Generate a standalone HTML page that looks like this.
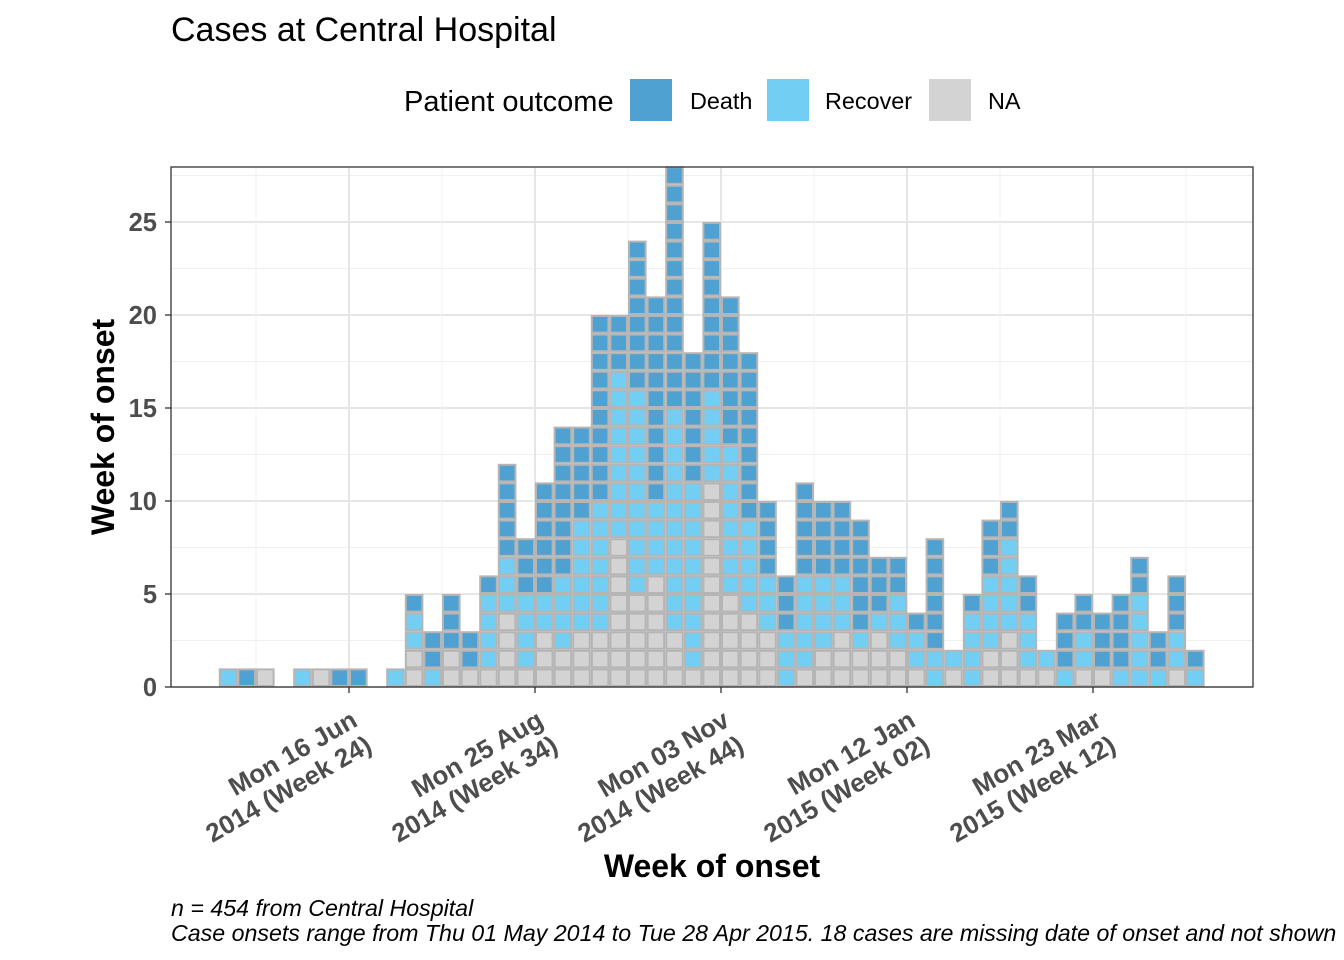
<!DOCTYPE html>
<html><head><meta charset="utf-8"><style>
html,body{margin:0;padding:0;background:#fff;}
svg{display:block;font-family:"Liberation Sans",Arial,sans-serif;}
</style></head><body>
<svg id="chart" width="1344" height="960" viewBox="0 0 1344 960">
<text x="171" y="41" font-size="34" fill="#000">Cases at Central Hospital</text>
<g>
<text x="404" y="111" font-size="29" fill="#000">Patient outcome</text>
<rect x="630" y="79" width="42" height="42" fill="#4fa1d1"/>
<text x="690" y="109" font-size="23.4">Death</text>
<rect x="767" y="79" width="42" height="42" fill="#72cff3"/>
<text x="825" y="109" font-size="23.4">Recover</text>
<rect x="929" y="79" width="42" height="42" fill="#d3d3d3"/>
<text x="988" y="109" font-size="23.4">NA</text>
</g>
<g id="grid"></g>
<g id="bars"></g>
<rect x="171" y="167" width="1082" height="520" fill="none" stroke="#333" stroke-width="1.3"/>
<g id="axes"></g>
<text transform="translate(114,427) rotate(-90)" text-anchor="middle" font-size="32" font-weight="bold">Week of onset</text>
<text x="712" y="877" text-anchor="middle" font-size="32" font-weight="bold">Week of onset</text>
<text x="171" y="916" font-size="23.2" font-style="italic">n = 454 from Central Hospital</text>
<text x="171" y="941" font-size="23.2" font-style="italic">Case onsets range from Thu 01 May 2014 to Tue 28 Apr 2015. 18 cases are missing date of onset and not shown</text>
</svg>
<script>
// weeks offset from Mon 16 Jun 2014 (week index 0 = Mon 28 Apr 2014)
const weekOffsets = [-7,-6,-5,-4,-3,-2,-1,0,1,2,3,4,5,6,7,8,9,10,11,12,13,14,15,16,17,18,19,20,21,22,23,24,25,26,27,28,29,30,31,32,33,34,35,36,37,38,39,40,41,42,43,44,45];
const naCounts =      [0,0,1,0,0,1,0,0,0,0,2,0,2,1,1,4,1,3,2,3,3,8,5,6,3,1,11,5,4,3,0,1,2,3,2,3,2,1,0,1,0,2,3,1,1,0,1,1,0,0,0,1,0];
const recoverCounts = [1,0,0,0,1,0,0,0,0,1,2,1,0,0,4,3,4,2,4,6,7,9,11,4,12,10,5,8,5,3,3,5,4,3,1,1,3,2,2,1,4,4,5,3,1,1,2,0,1,5,1,2,1];
const deathCounts =   [0,1,0,0,0,0,1,1,0,0,1,2,3,2,1,5,3,6,8,5,10,3,8,11,13,7,9,8,9,4,3,5,4,4,6,3,2,1,6,0,1,3,2,2,0,3,2,3,4,2,2,3,1];
const yTicks = [0,5,10,15,20,25];
const xTickWeeks = [0,10,20,30,40];
const xTickLine1 = ["Mon 16 Jun","Mon 25 Aug","Mon 03 Nov","Mon 12 Jan","Mon 23 Mar"];
const xTickLine2 = ["2014 (Week 24)","2014 (Week 34)","2014 (Week 44)","2015 (Week 02)","2015 (Week 12)"];

const NS = "http://www.w3.org/2000/svg";
const X0 = 171, X1 = 1253, Y0 = 687, Y1 = 167;
const x = w => 349 + 18.6 * w;
const y = v => 687 - 18.6 * v;
function mk(tag, attrs, parent){const e=document.createElementNS(NS,tag);for(const k in attrs)e.setAttribute(k,attrs[k]);parent.appendChild(e);return e;}
const grid = document.getElementById('grid');
const bars = document.getElementById('bars');
const axes = document.getElementById('axes');
for (let v = 2.5; y(v) > Y1; v += 5) {
  const l = mk('line',{x1:X0,x2:X1,y1:y(v),y2:y(v),stroke:'#f0f0f0','stroke-width':1},grid);
  
  
}
yTicks.forEach(v=>{
  const l = mk('line',{x1:X0,x2:X1,y1:y(v),y2:y(v),stroke:'#e6e6e6','stroke-width':2},grid);
  
  
  const t = mk('line',{x1:X0-6,x2:X0,y1:y(v),y2:y(v),stroke:'#333','stroke-width':1.3},axes);
  
  
  const lab = mk('text',{x:157,y:y(v)+9,'text-anchor':'end','font-size':25.5,'font-weight':'bold',fill:'#4d4d4d'},axes);
  lab.textContent = v;
  
  
});
for (let w = -5; x(w) < X1; w += 10) {
  if (x(w) <= X0) continue;
  const l = mk('line',{x1:x(w),x2:x(w),y1:Y1,y2:Y0,stroke:'#f0f0f0','stroke-width':1},grid);
  
  
}
xTickWeeks.forEach((w,i)=>{
  const l = mk('line',{x1:x(w),x2:x(w),y1:Y1,y2:Y0,stroke:'#e6e6e6','stroke-width':2},grid);
  
  
  const t = mk('line',{x1:x(w),x2:x(w),y1:Y0,y2:Y0+6,stroke:'#333','stroke-width':1.3},axes);
  
  
  const g = mk('g',{transform:`translate(${x(w)+10},725) rotate(-30)`},axes);
  
  
  const a = mk('text',{x:0,y:0,'text-anchor':'end','font-size':26,'font-weight':'bold',fill:'#4d4d4d'},g);
  a.textContent = xTickLine1[i];
  const b = mk('text',{x:0,y:29,'text-anchor':'end','font-size':26,'font-weight':'bold',fill:'#4d4d4d'},g);
  b.textContent = xTickLine2[i];
});
const cats = [['na',naCounts,'#d3d3d3'],['recover',recoverCounts,'#72cff3'],['death',deathCounts,'#4fa1d1']];
weekOffsets.forEach((w,i)=>{
  let stack = 0;
  cats.forEach(([name,arr,col])=>{
    for (let k=0;k<arr[i];k++){
      const r = mk('rect',{x:x(w)+1,y:y(stack+1)+1,width:18.6-2,height:18.6-2,fill:col,stroke:'#b5b5b5','stroke-width':2},bars);
      
      
      stack++;
    }
  });
});
</script>
</body></html>
